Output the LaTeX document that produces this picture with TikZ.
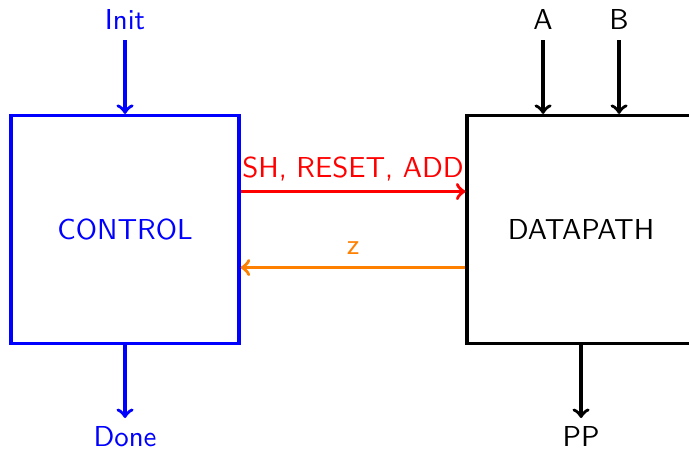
\documentclass[tikz,border=0pt]{standalone}
\usepackage{tikz}
\usetikzlibrary{arrows,positioning}
\renewcommand{\familydefault}{\sfdefault}

\begin{document}
\begin{tikzpicture}[font=\fontsize{10.8}{13}\selectfont,
  block/.style={draw, line width=1.2pt, minimum width=3cm, minimum height=3cm, inner sep=0pt},
  sig/.style={line width=1.3pt, ->}]
\useasboundingbox (-1.645,-2.9) rectangle (7.42,3.02);
\node[block, blue] (ctrl) at (0,0) {CONTROL};
\node[block] (dp) at (6,0) {DATAPATH};
% inputs and outputs
\node[blue] (init) at (0,2.76) {Init};
\coordinate (initE) at (0,2.49);
\draw[sig, blue] (initE) -- (ctrl.north);
\node[blue] (done) at (0,-2.72) {Done};
\coordinate (doneE) at (0,-2.48);
\draw[sig, blue] (ctrl.south) -- (doneE);
\node (a) at (5.5,2.76) {A};
\node (b) at (6.5,2.76) {B};
\coordinate (aE) at (5.5,2.49);
\coordinate (bE) at (6.5,2.49);
\draw[sig] (aE) -- (aE |- dp.north);
\draw[sig] (bE) -- (bE |- dp.north);
\node (pp) at (6,-2.72) {PP};
\coordinate (ppE) at (6,-2.48);
\draw[sig] (dp.south) -- (ppE);
% control and status signals
\draw[sig, red] ([yshift=0.5cm]ctrl.east) -- ([yshift=0.5cm]dp.west)
  node[midway, above=0pt] {SH, RESET, ADD};
\draw[sig, orange] ([yshift=-0.5cm]dp.west) -- ([yshift=-0.5cm]ctrl.east)
  node[midway, above=1pt] {z};
\end{tikzpicture}
\end{document}
